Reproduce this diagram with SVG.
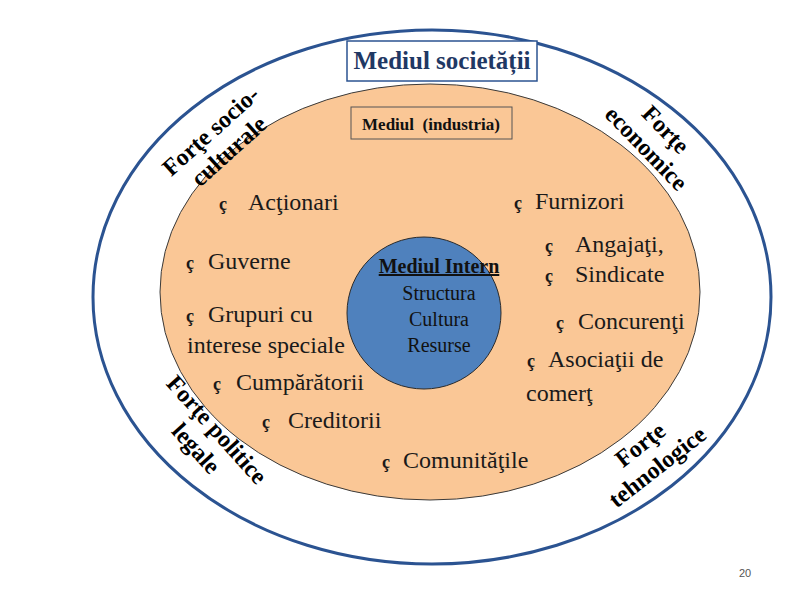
<svg xmlns="http://www.w3.org/2000/svg" width="800" height="600" viewBox="0 0 800 600">
<style>
.item{font-size:24px;fill:#1a1a1a}
.bul{font-size:18px;font-weight:bold;fill:#1a1a1a}
.force{font-size:24px;font-weight:bold;fill:#000;text-anchor:middle}
.inner{font-size:20px;fill:#111;text-anchor:middle}
</style>
<rect width="800" height="600" fill="#fff"/>
<g id="societate">
<ellipse cx="432" cy="297" rx="339" ry="267" fill="none" stroke="#2B5391" stroke-width="3"/>
</g>
<g id="industrie">
<ellipse cx="430" cy="292" rx="270" ry="208" fill="#FAC796" stroke="#3a3a3a" stroke-width="1"/>
</g>
<g id="intern" font-family="Liberation Serif, DejaVu Serif, serif">
<ellipse cx="424" cy="313" rx="77" ry="76" fill="#4F81BD" stroke="#2b2b2b" stroke-width="1"/>
<text class="inner" x="439" y="273" font-weight="bold" text-decoration="underline">Mediul Intern</text>
<text class="inner" x="439" y="300">Structura</text>
<text class="inner" x="439" y="326">Cultura</text>
<text class="inner" x="439" y="352">Resurse</text>
</g>
<g id="titlu" font-family="Liberation Serif, DejaVu Serif, serif">
<rect x="347" y="41" width="190" height="40" fill="#fff" stroke="#2B5391" stroke-width="1.5"/>
<text x="442" y="69" text-anchor="middle" font-size="25" font-weight="bold" fill="#1F3864">Mediul societății</text>
</g>
<g id="industria-box" font-family="Liberation Serif, DejaVu Serif, serif">
<rect x="351" y="107" width="161" height="32" fill="#FAC796" stroke="#555" stroke-width="1"/>
<text x="431" y="130" text-anchor="middle" font-size="17" font-weight="bold" fill="#111" xml:space="preserve">Mediul  (industria)</text>
</g>
<g id="forte" font-family="Liberation Serif, DejaVu Serif, serif">
<g transform="translate(216,137) rotate(-42)"><text class="force" x="0" y="0">Forţe socio-</text><text class="force" x="0" y="27">culturale</text></g>
<g transform="translate(660,135) rotate(46)"><text class="force" x="0" y="0">Forţe</text><text class="force" x="0" y="27">economice</text></g>
<g transform="translate(211,435) rotate(48)"><text class="force" x="0" y="0">Forţe politice</text><text class="force" x="0" y="28">legale</text></g>
<g transform="translate(645,451) rotate(-38)"><text class="force" x="0" y="0">Forţe</text><text class="force" x="0" y="28">tehnologice</text></g>
</g>
<g id="actori" font-family="Liberation Serif, DejaVu Serif, serif">
<text class="bul" x="219" y="210">ç</text><text class="item" x="248" y="210">Acţionari</text>
<text class="bul" x="186" y="269">ç</text><text class="item" x="208" y="269">Guverne</text>
<text class="bul" x="186" y="322">ç</text><text class="item" x="208" y="322">Grupuri cu</text>
<text class="item" x="187" y="353">interese speciale</text>
<text class="bul" x="213" y="390">ç</text><text class="item" x="236" y="390">Cumpărătorii</text>
<text class="bul" x="262" y="428">ç</text><text class="item" x="288" y="428">Creditorii</text>
<text class="bul" x="382" y="468">ç</text><text class="item" x="403" y="468">Comunităţile</text>
<text class="bul" x="514" y="209">ç</text><text class="item" x="535" y="209">Furnizori</text>
<text class="bul" x="545" y="252">ç</text><text class="item" x="575" y="252">Angajaţi,</text>
<text class="bul" x="545" y="282">ç</text><text class="item" x="575" y="282">Sindicate</text>
<text class="bul" x="556" y="329">ç</text><text class="item" x="578" y="329">Concurenţi</text>
<text class="bul" x="527" y="367">ç</text><text class="item" x="548" y="367">Asociaţii de</text>
<text class="item" x="526" y="401">comerţ</text>
</g>
<text x="745" y="577" text-anchor="middle" font-family="Liberation Sans, Arial, sans-serif" font-size="11" fill="#555">20</text>
</svg>
